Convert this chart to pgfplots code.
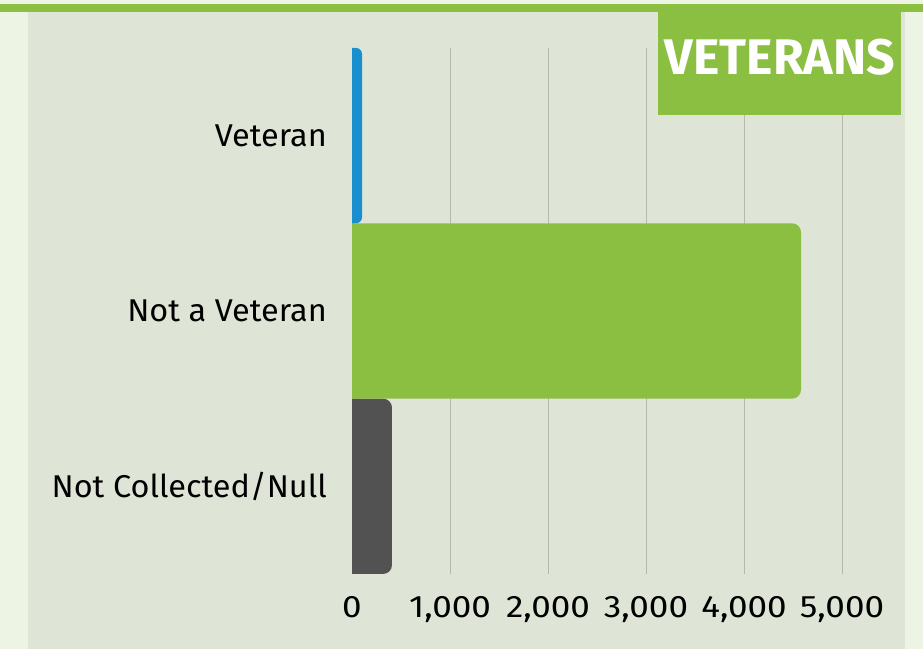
\documentclass[border=0pt]{standalone}
\usepackage{pgfplots}
\pgfplotsset{compat=1.18}
\usepackage{fontspec}
\setmainfont{Fira Sans}
\newfontfamily\catfont[FakeStretch=1.03]{Fira Sans}
\newfontfamily\numfont[FakeStretch=1.13]{Fira Sans}
\definecolor{vgreen}{HTML}{8BBF41}
\definecolor{vblue}{HTML}{1A8FD0}
\definecolor{vdark}{HTML}{525252}
\definecolor{panel}{HTML}{DFE5D6}
\definecolor{light}{HTML}{EDF4E3}
\definecolor{gridc}{HTML}{B4B9AC}
\begin{document}
\begin{tikzpicture}[x=1bp,y=1bp]
\fill[light] (0,0) rectangle (923,649);
\fill[panel] (28,0) rectangle (905,637);
\fill[vgreen] (0,637) rectangle (923,645);
\begin{axis}[
  at={(352bp,75bp)}, anchor=south west,
  width=490bp, height=526bp, scale only axis,
  xmin=0, xmax=5000, ymin=-0.5, ymax=2.5,
  axis line style={draw=none},
  axis x line*=bottom, axis y line*=left,
  major tick length=0pt,
  xtick={0,1000,2000,3000,4000,5000},
  xmajorgrids, grid style={gridc, line width=0.8bp},
  ytick={0,1,2},
  yticklabels={Not Collected/Null, Not a Veteran, Veteran},
  /pgf/number format/1000 sep={,},
  /pgf/number format/assume math mode=true,
  tick label style={text=black},
  xticklabel style={font=\numfont\fontsize{31bp}{36bp}\selectfont, anchor=north, inner sep=0pt, yshift=-22bp},
  yticklabel style={font=\catfont\fontsize{31.5bp}{36bp}\selectfont, anchor=east, inner sep=0pt, xshift=-25bp},
]
\addplot[fill=vdark, draw=none, rounded corners=9bp] coordinates {(-400,-0.5)(408,-0.5)(408,0.5)(-400,0.5)} -- cycle;
\addplot[fill=vgreen, draw=none, rounded corners=9bp] coordinates {(-400,0.5)(4582,0.5)(4582,1.5)(-400,1.5)} -- cycle;
\addplot[fill=vblue, draw=none, rounded corners=6bp] coordinates {(-400,1.5)(102,1.5)(102,2.5)(-400,2.5)} -- cycle;
\end{axis}
\fill[vgreen] (658,534) rectangle (901,637);
\node[text=white, font=\fontsize{50bp}{56bp}\selectfont\bfseries, anchor=center] at (780,591.5) {VETERANS};
\end{tikzpicture}
\end{document}
